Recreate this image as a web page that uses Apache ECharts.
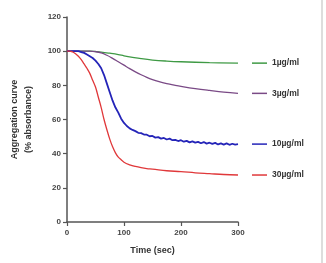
<!DOCTYPE html>
<html><head><meta charset="utf-8">
<script src="https://cdn.jsdelivr.net/npm/echarts@6/dist/echarts.min.js"></script>
<style>html,body{margin:0;padding:0;background:#fff;}#c{width:326px;height:263px;}</style>
</head><body><div id="c"></div>
<script>
const seriesNames = ['1µg/ml', '3µg/ml', '10µg/ml', '30µg/ml'];
const xTicks = [0, 100, 200, 300];
const yTicks = [0, 20, 40, 60, 80, 100, 120];
const green1 = [[0,100],[40,100],[50,99.8],[60,99.5],[75,98.8],[90,98],[100,97.3],[115,96.4],[130,95.6],[150,94.8],[175,94.2],[200,93.8],[250,93.3],[300,93]];
const purple3 = [[0,100],[40,100],[50,99.7],[60,99],[70,97.6],[80,95.8],[90,93.8],[100,91.8],[110,89.8],[120,87.9],[130,86.2],[140,84.7],[150,83.4],[160,82.3],[175,81],[190,80],[200,79.4],[225,78.1],[250,77],[275,76],[300,75.3]];
const blue10 = [[0,100],[10,100],[20,100],[25,99.5],[30,99],[35,98],[40,97],[45,96],[50,94.5],[55,92.5],[60,90],[65,86],[70,81],[75,76],[80,71],[85,67],[90,64],[95,60.5],[100,58],[105,56.2],[110,54.8],[115,53.9],[120,53.2],[125,52.2],[130,52],[135,51.2],[140,51.1],[145,50.2],[150,50.4],[155,49.4],[160,49.7],[165,48.8],[170,49.2],[175,48.3],[180,48.8],[185,47.9],[190,48.1],[195,47.4],[200,47.9],[205,47],[210,47.5],[215,46.6],[220,47.2],[225,46.5],[230,46.9],[235,46.1],[240,46.8],[245,45.9],[250,46.4],[255,45.7],[260,46.3],[265,45.4],[270,46],[275,45.3],[280,46],[285,45.2],[290,45.8],[295,45.3],[300,45.6]];
const red30 = [[0,100],[5,100],[10,99.5],[15,98.5],[20,97],[25,95],[30,92.5],[35,90],[40,87],[45,83],[50,79],[55,73],[60,67],[65,60],[70,54],[75,48.5],[80,44],[85,40.5],[90,38],[95,36.5],[100,35],[110,33.5],[120,32.5],[130,31.8],[140,31.3],[150,31],[175,30],[200,29.5],[225,28.8],[250,28.3],[275,27.8],[300,27.5]];
const colors = ['#3f9a45', '#7a4a86', '#2424b8', '#e0383a'];
const datasets = [green1, purple3, blue10, red30];

const chart = echarts.init(document.getElementById('c'));
const font = 'Liberation Sans, Arial, sans-serif';
chart.setOption({
  animation: false,
  grid: {left: 54, top: 17, right: 88, bottom: 41, containLabel: false},
  xAxis: {
    type: 'value', min: xTicks[0], max: xTicks[xTicks.length-1], interval: 100,
    name: 'Time (sec)', nameLocation: 'middle', nameGap: 24,
    nameTextStyle: {fontFamily: font, fontSize: 9, fontWeight: 'bold', color: '#333'},
    axisLine: {lineStyle: {color: '#555', width: 1.5}},
    axisTick: {show: true, length: 4, lineStyle: {color: '#555', width: 1.2}},
    axisLabel: {fontFamily: font, fontSize: 8, fontWeight: 'bold', color: '#444', margin: 7},
    splitLine: {show: false}
  },
  yAxis: {
    type: 'value', min: yTicks[0], max: yTicks[yTicks.length-1], interval: 20,
    name: 'Aggregation curve\n(% absorbance)', nameLocation: 'middle', nameGap: 31,
    nameTextStyle: {fontFamily: font, fontSize: 9, fontWeight: 'bold', color: '#333', lineHeight: 14},
    axisLine: {show: true, lineStyle: {color: '#555', width: 1.5}},
    axisTick: {show: true, length: 4, lineStyle: {color: '#555', width: 1.2}},
    axisLabel: {fontFamily: font, fontSize: 8, fontWeight: 'bold', color: '#444', margin: 6},
    splitLine: {show: false}
  },
  series: datasets.map((d, i) => ({
    type: 'line', name: seriesNames[i], data: d, showSymbol: false, smooth: i === 2 ? false : 0.4,
    lineStyle: {color: colors[i], width: i === 2 ? 1.8 : 1.3},
    itemStyle: {color: colors[i]},
    endLabel: {
      show: true, distance: 14,
      formatter: '{d|}{t|' + seriesNames[i] + '}',
      rich: {
        d: {width: 15, height: 1.5, backgroundColor: colors[i]},
        t: {fontFamily: font, fontSize: 8.5, fontWeight: 'bold', color: '#333', padding: [0, 0, 0, 5]}
      }
    }
  }))
});
chart.setOption({graphic: [{type: 'line', shape: {x1: 322, y1: 0, x2: 322, y2: 263}, style: {stroke: '#bbb', lineWidth: 1}}]});
</script></body></html>
